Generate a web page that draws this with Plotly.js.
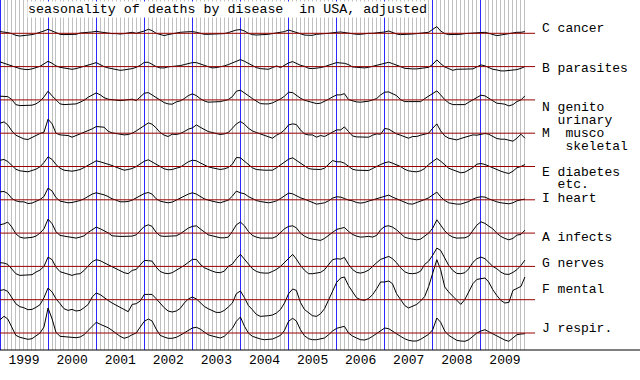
<!DOCTYPE html>
<html><head><meta charset="utf-8">
<script src="https://cdn.plot.ly/plotly-3.0.1.min.js"></script>
<style>html,body{margin:0;padding:0;background:#fff;}#chart{width:640px;height:380px;}</style>
</head><body><div id="chart"></div>
<script>
// ---------------- data ----------------
const years = [1999, 2000, 2001, 2002, 2003, 2004, 2005, 2006, 2007, 2008, 2009];
const titleText = "seasonality of deaths by disease  in USA, adjusted";
const seriesLabels = [
  ["C cancer"], ["B parasites"], ["N genito", "  urinary"], ["M  musco", "   skeletal"],
  ["E diabetes", "  etc."], ["I heart"], ["A infects"], ["G nerves"], ["F mental"], ["J respir."]
];
// monthly deviation from the series' own mean (Jan 1999 .. Dec 2009)
const cancer = [1.7,1.3,0.7,-0.3,-2,-2.7,-2.3,-1.7,-1.3,-0.3,0.7,2.3,
  4,2.3,0,-1,-1.3,-1.3,-1.3,-1,0.3,1,1,1.3,
  2,1.3,0.7,0,-0.3,-0.3,-0.7,-0.3,0,1,0,1,
  2.3,4,2.7,0,-1.3,-2.3,-1.3,-0.3,0,1,1.3,1.7,
  1.7,1,0,-1,-1,-1,-0.7,-0.3,-0.3,0.7,2,3.3,
  3.7,2.3,0,-1.3,-1.7,-1.7,-1.3,-1,-0.3,0.3,0.7,1.7,
  3.3,2,0.3,-1,-1.7,-2,-2,-1,-0.3,-0.3,0,0.7,
  1,1.3,0.7,0,-1,-1,-1,-0.3,0,0,0.3,0.7,
  1.3,2.3,0.7,-0.7,-1.3,-1.3,-1,-0.7,-0.3,0,0.3,1,
  4,6.7,2.3,-0.3,-1.3,-1.3,-1.3,-1,-0.3,0,0.7,1,
  1.3,1,0,-1.3,-2.3,-1.7,-1,-0.7,0,1,1,1.7];
const parasites = [4.7,3.3,1.7,0.3,-1,-2,-2.7,-3,-2.3,-1,0.3,2.7,
  5.3,3.3,0.7,-0.7,-1.3,-2,-2.7,-2,-1,0,1,2.7,
  4,1.7,0,-1.3,-2.3,-3,-3.7,-3.3,-2.7,-2,-0.7,1.3,
  4.3,4.3,2.3,0,-1.3,-1.3,-0.3,0,0,1,2,3.3,
  4,4,3,1.3,0,-1.3,-1,-0.3,0.7,2,3.7,5.3,
  7,5.3,3,1,-1,-2,-2.3,-2.7,-1,0.7,-1,1.7,
  3.7,5,3,1.3,0.3,-1.7,-2,-1.7,-1,0,1,2.7,
  4,4,3.3,2,-0.3,-0.7,-1,-1.3,-0.7,0.3,1.3,2.3,
  3.3,4.3,3,1.7,0,-1.7,-2.3,-2.3,-2.3,-2,-1.7,-0.7,
  2.3,6.7,3,-0.3,-2,-3.7,-2.7,-2.7,-3,-2.7,-2.3,-0.3,
  1.7,0.7,-1.3,-2.7,-3.3,-4.3,-4.3,-4,-4,-3,-1.7,0];
const genito = [3.7,3.7,3.3,0.3,-4.7,-5.7,-5.7,-5.7,-5.3,-4,-1.3,3,
  8.7,4,0,-4,-4.7,-4.7,-4.7,-4,-2.3,-0.3,2.7,5,
  7,5,2.3,0.7,0,-0.3,-0.7,-0.3,0,0.7,-0.7,2.7,
  6.7,7.3,5,1.7,-0.7,-2.7,-4,-4.3,-2,-1,1.3,4.3,
  6,4.3,1.3,-1,-2.3,-2.3,-2.3,-1.7,-0.7,0.3,3.3,8.7,
  9.7,7.3,4.3,1.3,-1.3,-3.7,-4,-4,-3,-1.3,1,3.7,
  7.7,7.3,4.3,1.7,-0.3,-1.7,-3,-3.7,-3.3,-1.7,0.7,3,
  5,5,6.3,0.3,-1,-2,-2.3,-2,-1.3,0,1.3,5,
  7.7,8,6.3,4.3,0.3,-1.7,-1.7,-1.7,-1.7,-1.7,1.3,3.7,
  6,9,5,0.3,-3,-4.7,-4.7,-4.7,-4.7,-2.3,0,2.7,
  4.7,4,1.7,-1.3,-3.3,-3.7,-4.3,-6,-4.7,-1.7,0,4];
const musco = [10,11.3,8.3,2.3,-2,-4,-5.7,-6.3,-4,-2,-0.3,1,
  14,9.3,0,-1.7,-1.7,-2.3,-4,-2.7,-0.7,1,2.3,4.3,
  6.7,6,6,2,0.3,-0.3,-1,-1.7,-1.3,0,2.3,5,
  8,10.3,9,5.3,0.7,-2,-3.3,-1,-1.3,-0.3,1.7,4,
  5.3,8.3,6,3.7,1.7,0.7,-0.3,-1.3,-0.7,0.7,5,9.3,
  11.7,9,5,2.3,0.7,-0.7,-1.7,-3.3,-5,-2,0,3.3,
  8.3,9.3,8.7,3.3,-0.7,-1.7,-1.7,-4,-2.3,-3.3,-1,1.7,
  3.3,3.3,6.3,1.7,-2.7,-3.7,-4,-4,-4,-2,-0.7,-1,
  4.7,4,1.7,-0.7,-2,-3.3,-5,-3.3,-3.3,-2,-1,0,
  5,9.3,2.3,-2.7,-5,-6,-6.7,-5.3,-4,-2.7,-1.7,-2,
  -1.3,-0.3,-1,-3,-5.3,-6,-6,-7,-8,-5,-1,-5];
const diabetes = [6.3,7,5,1.3,-2.7,-4.3,-5,-5.3,-4,-2.7,-0.3,4,
  9.7,7,2,-1.7,-3.7,-4.3,-4.7,-4,-3,-1,1.3,3.7,
  5.7,4.7,3.7,2.7,1,-0.7,-2.3,-3.7,-3,-2,0,2.3,
  5.3,6.7,4.7,1.7,-0.3,-2.3,-3.3,-3,-1.7,-0.7,2,4.7,
  6.3,5.7,3.7,1.3,-0.3,-1.3,-2.3,-3,-2.3,-1,2.3,9,
  8.7,5.3,2,-1.3,-3,-3.7,-3.7,-3.7,-3.7,-1.3,1.3,4.3,
  7.3,8.7,6.3,3,0.3,-2,-2.7,-3,-3,-1.7,2,6,
  4.7,4.7,3.3,0.3,-2.7,-3.7,-4,-4.3,-4,-2,0.3,2,
  3.7,4.7,3.3,1.7,0,-2.7,-4.3,-5,-5.3,-4.3,-2,2,
  5,8,5.3,1.7,-1.7,-3.3,-5,-6.3,-5.7,-3.7,-1,2.3,
  3,2,0.3,-1.7,-3.3,-4.7,-6,-7,-4.7,-1.3,0,2];
const heart = [8,8.3,6.3,1.3,-1,-2,-2,-3.7,-3.3,-1.7,0.3,3.3,
  11.7,8.7,2.3,-1.3,-2.3,-3,-2.7,-2,-0.7,1,3.3,5.7,
  7,6.3,5,3.3,1,-0.3,-2,-2,-1.7,-0.3,2,4.3,
  6.3,7.3,5.7,1,-1.3,-2.3,-3,-2.3,0,1.7,3.7,5.7,
  7,5.7,3.3,1,-0.3,-1.7,-2.3,-3,-2,-0.3,3.7,8.7,
  7,6,3.3,1,-0.7,-1.7,-2.3,-3,-2.3,-1,1.3,4.3,
  6.7,6,4,2,0.7,-1,-3.3,-4.3,-3.7,-3,-1,1.7,
  3,2.7,1.3,-0.3,-1,-2.7,-3.3,-2.7,-1.3,0,1,2.3,
  3.3,4.7,2.7,1,-0.7,-2.7,-4,-4.3,-3,-1.3,0.3,2,
  5,7.7,3,-0.7,-3,-4,-4.3,-4.3,-3.3,-1.7,0.7,2.3,
  3,2.7,1,-0.7,-2,-3,-3.7,-4,-3,-1,0,0.7];
const infects = [8.3,9.3,11,6,-0.7,-4,-5,-5,-4.3,-3,0,4.3,
  14,9.3,1.3,-2.3,-3.3,-3.7,-4.3,-5,-4,-2.7,0.7,3.7,
  6,4.3,2.3,0.3,-2.7,-3.3,-3.3,-3.3,-3.3,-3,-1.7,2.3,
  6.7,8.3,6.7,0.7,-2.7,-3.3,-3.3,-3,-2.7,-0.7,2,5,
  6.7,7.3,4.3,1,-1.7,-2.7,-3.7,-4.7,-4.7,-4,1.7,8.3,
  11,7.3,1.7,-2.3,-4,-5,-5,-5,-5,-3.3,0.7,4.3,
  6.7,7.3,5.3,0,-3,-5,-6,-6.7,-7.3,-5.3,-2,0.7,
  3.7,4.7,5.7,1.7,-1.3,-3,-4,-3.7,-3.3,-4,-2.3,3.3,
  6.7,7.3,6,3.3,-0.7,-4,-5.3,-6.3,-6.7,-6,-3.3,0,
  5,13.3,8,2.3,-1.7,-4,-5,-5,-4.7,-3,2.3,8,
  11.3,9.7,7,4.3,0,-3.3,-5.3,-6.7,-5.3,-2,-1.3,3];
const nerves = [3.7,3.3,2,-3,-7.3,-9,-9,-8.7,-8.3,-5.7,-3.7,0,
  9.3,6.7,-0.7,-5.3,-6.3,-7.7,-9,-7.7,-7.3,-4,0.7,4.7,
  6.7,5.7,3.7,1.7,0,-2,-4.7,-6.3,-7.3,-4,-3,1,
  6,5.7,5.3,-0.7,-5,-6.7,-7.3,-6.3,-4,-2,1,4,
  7,7,2.3,-1.3,-3.3,-4.7,-6,-6.3,-4.7,0,2.3,7.7,
  12,7,1.7,-2.3,-5,-6.3,-6.7,-6.7,-5,-3,0,3.7,
  8.3,12,7.3,1,-3.7,-7.3,-7.3,-7,-6,-3.3,1.7,6.7,
  7.7,7.3,9,2,-3,-6,-6.7,-5.7,-3.7,0.3,3.7,7,
  8.7,10,7.7,3.7,-1.3,-5.3,-7,-7.3,-6.7,-4.7,2,5.3,
  11.3,18.3,16,8.3,1,-4,-7,-7.3,-6.3,-2.3,4,7.7,
  9.3,7.7,4,0,-2.3,-5.7,-7.7,-8,-6,-3.3,1,6.3];
const mental = [9.3,10,8.3,2,-4,-7,-8,-10,-9.7,-7.7,-5,2,
  11.7,7.7,1,-4,-9,-10.7,-9.7,-11.3,-10.7,-8,-4.7,2.7,
  6.7,5,2,-0.7,-3.3,-5.7,-8,-10,-12,-4.7,-4,-1.3,
  5.3,5.3,5.3,1,-4,-8,-11.3,-12.3,-11.3,-8.7,-3.3,0.7,
  2.7,0.7,-2.7,-6.7,-9,-11,-12.7,-12.7,-10.7,-7.3,-3.3,6,
  8.7,2,-5.7,-10,-14.7,-16.7,-16.7,-16,-15.3,-13.3,-9.7,-3.3,
  6,10.7,9.3,-2.7,-9.7,-13.3,-16,-16.7,-14,-9,-0.7,8.7,
  17.3,21.7,22.7,14,8,2,0,-0.7,1.3,5,11,17.7,
  17.7,18.7,16,6,0.3,-5.7,-8.3,-6.7,-4.7,-1.3,3.3,13.3,
  26,40,30,12.7,7.7,3.3,-0.7,-4.7,0.3,7.7,16,20.3,
  21,21.7,17.7,10,4.3,-0.7,-3.3,-2.7,9.3,11,13.3,22.7];
const respir = [13.3,16.7,14,6,-2.3,-4.3,-5.3,-6.3,-5.7,-3.3,0,6,
  25,14,0.7,-3.3,-3.7,-4.3,-5,-4.7,-4,-1.7,2.7,6.7,
  10.7,8.7,7.3,5.3,2.7,-0.7,-3.3,-5.3,-4,-1.7,0,6,
  11.7,14,12,4,-2.3,-4,-5.3,-5.3,-4.3,-2.3,0,2.7,
  5,5.7,4,1,-1.7,-3,-4.3,-5,-3.3,0.7,4.7,11.7,
  16,6.7,0,-3.3,-5,-6,-6.7,-6.7,-6,-4.3,-2.3,2.7,
  11.7,14.7,12,3.3,-2.7,-5.7,-6.7,-6.7,-6,-5,-1.7,2,
  4.7,6,6.7,0,-3,-5,-6.7,-7,-5.7,-3.3,-0.7,2,
  5,4.3,1.7,-0.7,-3.3,-5.7,-7.3,-8,-8,-6.3,-4,-1.3,
  3.3,15,10.7,2,-2.3,-5.3,-7.3,-8,-8.3,-6.7,-3.7,0,
  2,3.3,1.3,-0.7,-2.7,-5.3,-7,-8.3,-5.3,-1.7,-1,-0.7];
const seriesData = [cancer, parasites, genito, musco, diabetes, heart, infects, nerves, mental, respir];

// ---------------- layout geometry ----------------
const W = 640, H = 380, plotW = 529, plotH = 350;
const rowStep = 33.3;                 // px between baselines
const labelYpx = [[29], [68], [107, 120], [133, 146], [172, 184.5], [198], [237], [263], [289], [328]];
const labelXpx = 541;
const baseEndPx = 535;
const FONT = "Liberation Mono, Courier New, monospace";
const YEAR_BLUE = "#2a2aff";
const nb = s => s.replace(/ /g, "\u00a0");

const months = [];
years.forEach(y => { for (let m = 1; m <= 12; m++) months.push(y + "-" + String(m).padStart(2, "0") + "-01"); });
const xStart = years[0] + "-01-01";
const xEnd = (years[years.length - 1] + 1) + "-01-01";

const traces = [{
  x: [months[0]], y: [0.5], xaxis: "x", yaxis: "y", mode: "lines",
  hoverinfo: "skip", showlegend: false
}];
const layout = {
  width: W, height: H,
  margin: {l: 0, r: W - plotW, t: 0, b: H - plotH, pad: 0},
  paper_bgcolor: "#fff", plot_bgcolor: "rgba(0,0,0,0)",
  showlegend: false,
  xaxis: {
    type: "date", range: [xStart, xEnd], domain: [0, 1], anchor: "y",
    tick0: xStart, dtick: "M12", tickformat: "%Y", ticklabelmode: "period",
    showgrid: true, gridcolor: YEAR_BLUE, gridwidth: 1,
    minor: {dtick: "M1", showgrid: true, gridcolor: "#c0c0c0", gridwidth: 1},
    ticks: "", showline: false, zeroline: false, fixedrange: true,
    tickfont: {family: FONT, size: 13, color: "#000"}
  },
  yaxis: {domain: [0, 1], range: [0, 1], visible: false, fixedrange: true},
  xaxis2: {type: "date", range: [xStart, xEnd], domain: [0, 1], anchor: "y2", visible: false, fixedrange: true},
  shapes: [
    // year line on the left edge of the plot area
    {type: "line", xref: "paper", yref: "paper", x0: 0.5 / plotW, x1: 0.5 / plotW, y0: 0, y1: 1,
     line: {color: YEAR_BLUE, width: 1}, layer: "below"}
  ],
  annotations: []
};

seriesData.forEach((vals, k) => {
  const yid = "y" + (k + 2);
  const b = 1 - rowStep * (k + 1) / plotH;          // baseline in paper units
  const d0 = Math.max(0, b - 0.17), d1 = Math.min(1, b + 0.17);
  layout["yaxis" + (k + 2)] = {
    domain: [d0, d1], range: [(d0 - b) * plotH, (d1 - b) * plotH],
    visible: false, anchor: "x2", fixedrange: true
  };
  traces.push({
    x: months, y: vals, xaxis: "x2", yaxis: yid, mode: "lines",
    line: {color: "#000", width: 1}, hoverinfo: "skip", showlegend: false
  });
  layout.shapes.push({
    type: "line", xref: "paper", x0: 0, x1: baseEndPx / plotW, yref: yid, y0: 0, y1: 0,
    line: {color: "#990000", width: 1}, layer: "above"
  });
  seriesLabels[k].forEach((txt, j) => {
    layout.annotations.push({
      xref: "paper", yref: "paper", x: labelXpx / plotW, y: 1 - labelYpx[k][j] / plotH,
      xanchor: "left", yanchor: "middle", showarrow: false, text: nb(txt),
      font: {family: FONT, size: 13, color: "#000"}, borderpad: 0
    });
  });
});

// bottom rule across the full width
layout.shapes.push({
  type: "line", xref: "paper", yref: "paper", x0: 0, x1: W / plotW, y0: 0, y1: 0,
  line: {color: "#000", width: 1}, layer: "above"
});
// title box
layout.annotations.push({
  xref: "paper", yref: "paper", x: 27 / plotW, y: 1 - 1 / plotH, xanchor: "left", yanchor: "top",
  showarrow: false, text: nb(titleText), bgcolor: "#fff", borderpad: 0,
  font: {family: FONT, size: 13.3, color: "#000"}
});

Plotly.newPlot("chart", traces, layout, {staticPlot: true, displayModeBar: false});
</script>
</body></html>
